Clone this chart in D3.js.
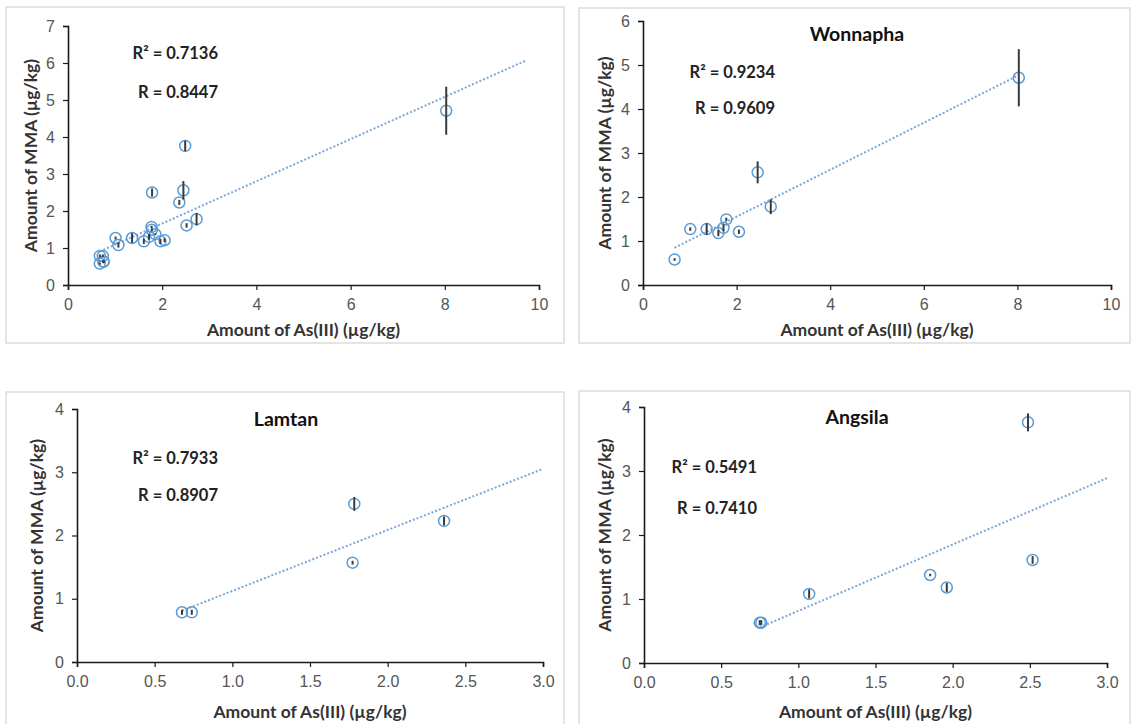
<!DOCTYPE html>
<html>
<head>
<meta charset="utf-8">
<script src="https://cdn.jsdelivr.net/npm/d3@7"></script>
<style>
  html, body { margin: 0; padding: 0; background: #fff; }
  svg { display: block; font-family: Lato, "Open Sans", "Liberation Sans", sans-serif; }
</style>
</head>
<body>
<svg id="chart" width="1132" height="724"></svg>
<script>
// ---------- data ----------
const wonnaphaX   = [0.675, 1.01, 1.36, 1.61, 1.72, 1.78, 2.05, 2.45, 2.73, 8.03];
const wonnaphaY   = [0.58, 1.27, 1.27, 1.18, 1.30, 1.49, 1.21, 2.56, 1.78, 4.71];
const wonnaphaErr = [0.03, 0.04, 0.13, 0.07, 0.08, 0.04, 0.05, 0.25, 0.17, 0.65];

const lamtanX   = [0.676, 0.739, 1.785, 1.774, 2.363];
const lamtanY   = [0.786, 0.786, 2.50, 1.57, 2.23];
const lamtanErr = [0.04, 0.04, 0.11, 0.03, 0.07];

const angsilaX   = [0.75, 0.76, 1.07, 1.854, 1.962, 2.488, 2.518];
const angsilaY   = [0.63, 0.63, 1.08, 1.375, 1.18, 3.76, 1.61];
const angsilaErr = [0.04, 0.04, 0.07, 0.02, 0.07, 0.14, 0.06];

const panelTitles = ["", "Wonnapha", "Lamtan", "Angsila"];
const r2Labels = ["0.7136", "0.9234", "0.7933", "0.5491"];
const rLabels  = ["0.8447", "0.9609", "0.8907", "0.7410"];
const xMaxes = [10, 10, 3, 3];
const yMaxes = [7, 6, 4, 4];
const xTicksWide   = [0, 2, 4, 6, 8, 10];
const xTicksNarrow = [0, 0.5, 1.0, 1.5, 2.0, 2.5, 3.0];
const trendForecastEnd = [9.7, 0, 3.0, 3.0];
const xTitle = "Amount of As(III) (µg/kg)";
const yTitle = "Amount of MMA (µg/kg)";

// ---------- build panels ----------
function zip(xs, ys, es) { return xs.map((x, i) => ({x, y: ys[i], e: es[i]})); }
const allData = [].concat(
  zip(lamtanX, lamtanY, lamtanErr),
  zip(angsilaX, angsilaY, angsilaErr),
  zip(wonnaphaX, wonnaphaY, wonnaphaErr)
);
const datasets = [allData, zip(wonnaphaX, wonnaphaY, wonnaphaErr),
                  zip(lamtanX, lamtanY, lamtanErr), zip(angsilaX, angsilaY, angsilaErr)];

// layout (pixels)
const layouts = [
  {frame:[6,7,564,343],   px:[68,539],  py:[285,26],  r2:[218,53,92],  title:[0,0],     xt:45, yt:37},
  {frame:[579,8,1130,343],px:[643,1111],py:[285,21],  r2:[775,72,108], title:[857,34],  xt:45, yt:38},
  {frame:[6,392,564,740], px:[77,543],  py:[662,409], r2:[218,458,495],title:[286,419], xt:50, yt:40},
  {frame:[579,391,1130,740],px:[644,1107],py:[663,407],r2:[757,467,508],title:[857,417], xt:49, yt:39}
];

const svg = d3.select("#chart");
const blue = "#5b9bd5";

datasets.forEach((data, i) => {
  const L = layouts[i];
  const g = svg.append("g");
  // frame
  g.append("rect")
    .attr("x", L.frame[0]).attr("y", L.frame[1])
    .attr("width", L.frame[2] - L.frame[0]).attr("height", L.frame[3] - L.frame[1])
    .attr("fill", "#fff").attr("stroke", "#dcdcdc").attr("stroke-width", 1.5);

  const x = d3.scaleLinear().domain([0, xMaxes[i]]).range(L.px);
  const y = d3.scaleLinear().domain([0, yMaxes[i]]).range(L.py);
  const narrow = xMaxes[i] === 3;

  // axes
  const xAxis = d3.axisBottom(x)
    .tickValues(narrow ? xTicksNarrow : xTicksWide)
    .tickFormat(narrow ? d3.format(".1f") : d3.format("d"))
    .tickSize(5).tickPadding(6);
  const yAxis = d3.axisLeft(y).ticks(yMaxes[i]).tickFormat(d3.format("d"))
    .tickSize(5).tickPadding(8);

  const gx = g.append("g").attr("transform", `translate(0,${L.py[0]})`).call(xAxis);
  const gy = g.append("g").attr("transform", `translate(${L.px[0]},0)`).call(yAxis);
  [gx, gy].forEach(a => {
    a.select(".domain").attr("stroke", "#1a1a1a").attr("stroke-width", 1.6);
    a.selectAll(".tick line").attr("stroke", "#1a1a1a").attr("stroke-width", 1.2);
    a.selectAll(".tick text").attr("fill", "#555").style("font-size", "16px");
  });
  gx.selectAll(".tick text").attr("dy", "0.85em");

  // regression line computed from the data
  const mx = d3.mean(data, d => d.x), my = d3.mean(data, d => d.y);
  const sxy = d3.sum(data, d => (d.x - mx) * (d.y - my));
  const sxx = d3.sum(data, d => (d.x - mx) * (d.x - mx));
  const slope = sxy / sxx, icpt = my - slope * mx;
  const x0 = d3.min(data, d => d.x);
  const x1 = Math.max(d3.max(data, d => d.x), trendForecastEnd[i]);
  g.append("line")
    .attr("x1", x(x0)).attr("y1", y(icpt + slope * x0))
    .attr("x2", x(x1)).attr("y2", y(icpt + slope * x1))
    .attr("stroke", "#7aa6d8").attr("stroke-width", 2)
    .attr("stroke-dasharray", "2,2");

  // markers
  g.append("g").selectAll("circle").data(data).join("circle")
    .attr("cx", d => x(d.x)).attr("cy", d => y(d.y)).attr("r", 5.5)
    .attr("fill", "none").attr("stroke", blue).attr("stroke-width", 1.5);

  // error bars
  g.append("g").selectAll("line").data(data).join("line")
    .attr("x1", d => x(d.x)).attr("x2", d => x(d.x))
    .attr("y1", d => y(d.y - d.e)).attr("y2", d => y(d.y + d.e))
    .attr("stroke", "#3a3a3a").attr("stroke-width", 2);

  // annotations
  g.append("text").attr("x", L.r2[0]).attr("y", L.r2[1]).attr("dy", "0.35em")
    .attr("text-anchor", "end").attr("font-weight", "bold").style("font-size", "16.5px")
    .attr("fill", "#222").text("R² = " + r2Labels[i]);
  g.append("text").attr("x", L.r2[0]).attr("y", L.r2[2]).attr("dy", "0.35em")
    .attr("text-anchor", "end").attr("font-weight", "bold").style("font-size", "16.5px")
    .attr("fill", "#222").text("R = " + rLabels[i]);

  if (panelTitles[i]) {
    g.append("text").attr("x", L.title[0]).attr("y", L.title[1]).attr("dy", "0.35em")
      .attr("text-anchor", "middle").attr("font-weight", "bold").style("font-size", "19.5px")
      .attr("fill", "#111").text(panelTitles[i]);
  }

  // axis titles
  g.append("text")
    .attr("x", (L.px[0] + L.px[1]) / 2).attr("y", L.py[0] + L.xt).attr("dy", "0.35em")
    .attr("text-anchor", "middle").attr("font-weight", "bold").style("font-size", "17.5px")
    .attr("fill", "#333").text(xTitle);
  g.append("text")
    .attr("transform", `translate(${L.px[0] - L.yt},${(L.py[0] + L.py[1]) / 2}) rotate(-90)`)
    .attr("dy", "0.35em")
    .attr("text-anchor", "middle").attr("font-weight", "bold").style("font-size", "17.5px")
    .attr("fill", "#333").text(yTitle);
});
</script>
</body>
</html>
